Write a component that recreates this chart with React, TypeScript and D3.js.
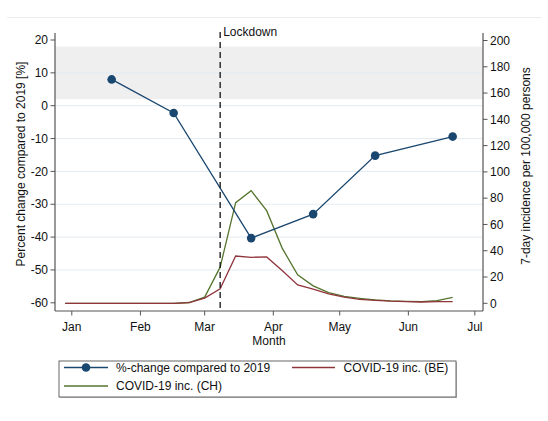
import React from "react";
import * as d3 from "d3";

// Weekly reporting dates (Sundays)
const weeks: string[] = [
  "2019-12-29", "2020-01-05", "2020-01-12", "2020-01-19", "2020-01-26",
  "2020-02-02", "2020-02-09", "2020-02-16", "2020-02-23", "2020-03-01",
  "2020-03-08", "2020-03-15", "2020-03-22", "2020-03-29", "2020-04-05",
  "2020-04-12", "2020-04-19", "2020-04-26", "2020-05-03", "2020-05-10",
  "2020-05-17", "2020-05-24", "2020-05-31", "2020-06-07", "2020-06-14",
  "2020-06-21",
];

// 7-day incidence per 100,000 persons
const incBE: number[] = [
  0, 0, 0, 0, 0, 0, 0, 0, 0.5, 4, 11, 36, 35, 35.3, 25, 14, 10.8, 7.2, 4.7,
  3, 2.2, 1.6, 1.3, 1.0, 1.2, 1.3,
];
const incCH: number[] = [
  0, 0, 0, 0, 0, 0, 0, 0, 0.6, 4.7, 27.5, 76.6, 85.7, 70.5, 42, 21.7, 13.3,
  8.2, 5.2, 3.8, 2.6, 1.9, 1.5, 1.3, 2.0, 4.5,
];

// Percent change compared to 2019
const changeDates: string[] = [
  "2020-01-19", "2020-02-16", "2020-03-22", "2020-04-19", "2020-05-17", "2020-06-21",
];
const changeValues: number[] = [8.0, -2.2, -40.3, -33.0, -15.2, -9.4];

const monthTicks: string[] = [
  "2020-01-01", "2020-02-01", "2020-03-01", "2020-04-01", "2020-05-01", "2020-06-01", "2020-07-01",
];
const monthLabels: string[] = ["Jan", "Feb", "Mar", "Apr", "May", "Jun", "Jul"];
const leftTicks: number[] = [20, 10, 0, -10, -20, -30, -40, -50, -60];
const rightTicks: number[] = [200, 180, 160, 140, 120, 100, 80, 60, 40, 20, 0];
const bandRange: number[] = [2, 18];
const lockdownDate = "2020-03-08";

const BLUE = "#1a476f";
const RED = "#90353b";
const GREEN = "#55752f";
const AXIS = "#555";
const FONT = "'Liberation Sans', Arial, Helvetica, sans-serif";
const FS = 12;

const parse = (s: string) => new Date(s + "T00:00:00Z");

export default function App() {
  const W = 548;
  const H = 421;
  const left = 55;
  const right = 483;
  const top = 33;
  const bottom = 311;

  const x = d3
    .scaleUtc()
    .domain([parse("2020-01-01"), parse("2020-07-01")])
    .range([71.8, 474.8]);
  const yL = d3.scaleLinear().domain([-60, 20]).range([302.8, 40]);
  const yR = d3.scaleLinear().domain([0, 200]).range([303.3, 40.5]);

  const incLine = d3
    .line<number>()
    .x((_, i) => x(parse(weeks[i])))
    .y((d) => yR(d));
  const changeLine = d3
    .line<number>()
    .x((_, i) => x(parse(changeDates[i])))
    .y((d) => yL(d));

  const lx = x(parse(lockdownDate));

  return (
    <svg
      width={W}
      height={H}
      style={{ position: "absolute", left: 0, top: 0, background: "#fff" }}
      fontFamily={FONT}
    >
      <rect x={0} y={0} width={W} height={H} fill="#fff" />
      <line x1={7} x2={541} y1={17.5} y2={17.5} stroke="#ececec" strokeWidth={1} />

      {/* shaded band */}
      <rect
        x={left}
        width={right - left}
        y={yL(bandRange[1])}
        height={yL(bandRange[0]) - yL(bandRange[1])}
        fill="#efefef"
      />

      {/* gridlines */}
      {leftTicks
        .filter((t) => t !== 20 && t !== -60)
        .map((t) => (
          <line
            key={"g" + t}
            x1={left}
            x2={right}
            y1={yL(t)}
            y2={yL(t)}
            stroke="#e3ebf1"
            strokeWidth={1}
          />
        ))}

      {/* incidence lines */}
      <path d={incLine(incCH) || ""} fill="none" stroke={GREEN} strokeWidth={1.3} />
      <path d={incLine(incBE) || ""} fill="none" stroke={RED} strokeWidth={1.3} />

      {/* percent change */}
      <path d={changeLine(changeValues) || ""} fill="none" stroke={BLUE} strokeWidth={1.3} />
      {changeValues.map((v, i) => (
        <circle key={"p" + i} cx={x(parse(changeDates[i]))} cy={yL(v)} r={4.3} fill={BLUE} />
      ))}

      {/* lockdown */}
      <line
        x1={lx}
        x2={lx}
        y1={32}
        y2={bottom}
        stroke="#111"
        strokeWidth={1.3}
        strokeDasharray="6,4"
      />
      <text x={lx + 3} y={35.5} fontSize={FS} fill="#111">
        Lockdown
      </text>

      {/* left axis */}
      <line x1={left} x2={left} y1={top} y2={bottom} stroke={AXIS} strokeWidth={1.2} />
      {leftTicks.map((t) => (
        <g key={"l" + t}>
          <line x1={left - 4.5} x2={left} y1={yL(t)} y2={yL(t)} stroke={AXIS} strokeWidth={1} />
          <text
            x={left - 7}
            y={yL(t)}
            dy="0.35em"
            textAnchor="end"
            fontSize={FS}
            fill="#111"
          >
            {t}
          </text>
        </g>
      ))}
      <text
        transform={`translate(24.5,${164}) rotate(-90)`}
        textAnchor="middle"
        fontSize={FS}
        fill="#111"
      >
        Percent change compared to 2019 [%]
      </text>

      {/* right axis */}
      <line x1={right} x2={right} y1={top} y2={bottom} stroke={AXIS} strokeWidth={1.2} />
      {rightTicks.map((t) => (
        <g key={"r" + t}>
          <line x1={right} x2={right + 4.5} y1={yR(t)} y2={yR(t)} stroke={AXIS} strokeWidth={1} />
          <text x={right + 7} y={yR(t)} dy="0.35em" fontSize={FS} fill="#111">
            {t}
          </text>
        </g>
      ))}
      <text
        transform={`translate(529.5,${166}) rotate(-90)`}
        textAnchor="middle"
        fontSize={FS}
        fill="#111"
      >
        7-day incidence per 100,000 persons
      </text>

      {/* x axis */}
      <line x1={left} x2={right} y1={bottom} y2={bottom} stroke={AXIS} strokeWidth={1.2} />
      {monthTicks.map((m, i) => {
        const px = x(parse(m));
        return (
          <g key={m}>
            <line x1={px} x2={px} y1={bottom} y2={bottom + 4.5} stroke={AXIS} strokeWidth={1} />
            <text x={px} y={331} textAnchor="middle" fontSize={FS} fill="#111">
              {monthLabels[i]}
            </text>
          </g>
        );
      })}
      <text x={(left + right) / 2} y={344.5} textAnchor="middle" fontSize={FS} fill="#111">
        Month
      </text>

      {/* legend */}
      <rect x={60} y={362} width={397} height={36} fill="#bbb" />
      <rect x={59} y={361} width={397} height={36} fill="#fff" stroke="#666" strokeWidth={1} />
      <line x1={64} x2={108} y1={367.5} y2={367.5} stroke={BLUE} strokeWidth={1.3} />
      <circle cx={86} cy={367.5} r={4.3} fill={BLUE} />
      <text x={116} y={367.5} dy="0.35em" fontSize={FS} fill="#111">
        %-change compared to 2019
      </text>
      <line x1={292} x2={335} y1={367.5} y2={367.5} stroke={RED} strokeWidth={1.3} />
      <text x={343.5} y={367.5} dy="0.35em" fontSize={FS} fill="#111">
        COVID-19 inc. (BE)
      </text>
      <line x1={64} x2={108} y1={386} y2={386} stroke={GREEN} strokeWidth={1.3} />
      <text x={116} y={386} dy="0.35em" fontSize={FS} fill="#111">
        COVID-19 inc. (CH)
      </text>
    </svg>
  );
}
